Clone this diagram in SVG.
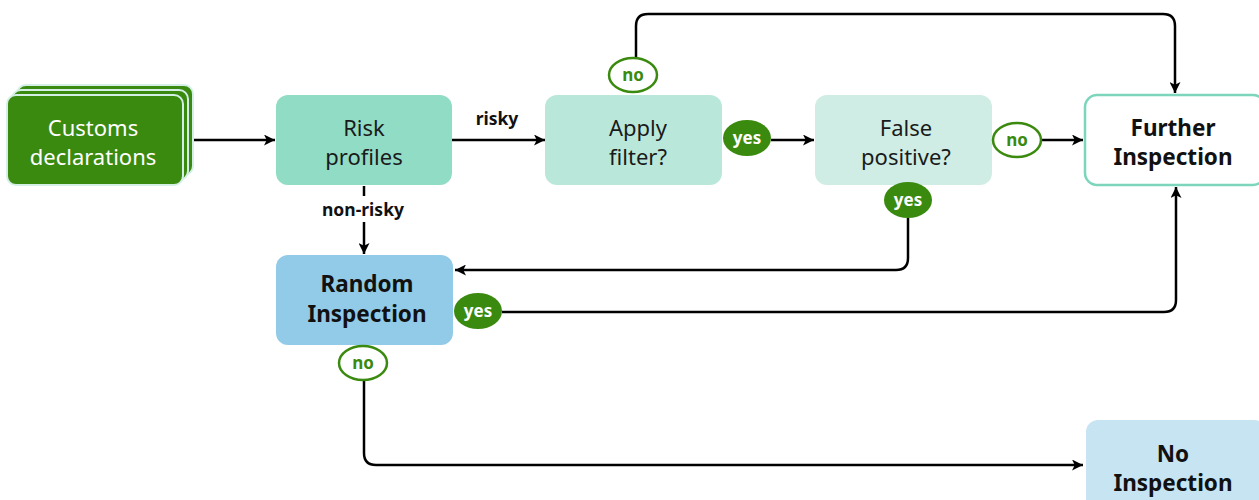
<svg xmlns="http://www.w3.org/2000/svg" width="1259" height="500" viewBox="0 0 1259 500">
<defs>
<marker id="ah2" viewBox="0 0 12 12" refX="12" refY="6" markerWidth="12" markerHeight="11" markerUnits="userSpaceOnUse" orient="auto">
<path d="M0,0 L12,6 L0,12 L3,6 z" fill="#000"/>
</marker>
<style>
text{font-family:"Noto Sans","Open Sans","Liberation Sans",sans-serif;text-anchor:middle}
.n{font-size:22px;fill:#1a1a1a}
.w{font-size:22px;fill:#fff}
.b{font-size:22.5px;font-weight:bold;fill:#111}
.lbl{font-size:17.5px;font-weight:bold;fill:#111}
.yes{fill:#3b8a10}
.yt{fill:#fff;font-size:17px;font-weight:bold}
.no{fill:#fff;stroke:#3b8a10;stroke-width:2.5}
.not{fill:#3b8a10;font-size:17px;font-weight:bold}
.c{fill:none;stroke:#000;stroke-width:2.5;marker-end:url(#ah2)}
.c0{fill:none;stroke:#000;stroke-width:2.5}
</style>
</defs>
<g id="connectors">
<path class="c" d="M193,140 H275"/>
<path class="c" d="M452,140 H545"/>
<path class="c" d="M771,140 H814"/>
<path class="c" d="M1041,140 H1083"/>
<path class="c0" d="M364,186 V196"/>
<path class="c" d="M364,222 V254"/>
<path class="c" d="M636,58 V26 Q636,14 648,14 H1163 Q1175,14 1175,26 V93"/>
<path class="c" d="M908,218 V258 Q908,270 896,270 H455"/>
<path class="c" d="M502,312 H1164 Q1176,312 1176,300 V187"/>
<path class="c" d="M364,381 V453 Q364,465 376,465 H1083"/>
<text class="lbl" x="497" y="125">risky</text>
<text class="lbl" x="363" y="216">non-risky</text>
</g>
<g id="customs">
<rect x="17" y="85" width="176" height="90" rx="9" fill="#3b8a10" stroke="#d4efe5" stroke-width="2"/>
<rect x="12" y="90" width="176" height="90" rx="9" fill="#3b8a10" stroke="#d4efe5" stroke-width="2"/>
<rect x="7" y="95" width="176" height="90" rx="9" fill="#3b8a10" stroke="#d4efe5" stroke-width="2"/>
<text class="w" x="93" y="136">Customs</text>
<text class="w" x="93" y="165">declarations</text>
</g>
<g id="risk">
<rect x="276" y="95" width="176" height="90" rx="12" fill="#91dcc5"/>
<text class="n" x="364" y="136">Risk</text>
<text class="n" x="364" y="165">profiles</text>
</g>
<g id="filter">
<rect x="545" y="95" width="177" height="90" rx="12" fill="#b9e8da"/>
<text class="n" x="638" y="136">Apply</text>
<text class="n" x="638" y="165">filter?</text>
</g>
<g id="falsepos">
<rect x="815" y="95" width="177" height="90" rx="12" fill="#cfede4"/>
<text class="n" x="906" y="136">False</text>
<text class="n" x="906" y="165">positive?</text>
</g>
<g id="further">
<rect x="1085" y="95" width="180" height="90" rx="12" fill="#fff" stroke="#7dd5bb" stroke-width="2.5"/>
<text class="b" x="1173" y="136">Further</text>
<text class="b" x="1173" y="165">Inspection</text>
</g>
<g id="random">
<rect x="276" y="255" width="177" height="90" rx="12" fill="#91cbe7"/>
<text class="b" x="367" y="292">Random</text>
<text class="b" x="367" y="322">Inspection</text>
</g>
<g id="noinsp">
<rect x="1086" y="420" width="180" height="95" rx="12" fill="#c6e4f1"/>
<text class="b" x="1173" y="462">No</text>
<text class="b" x="1173" y="491">Inspection</text>
</g>
<g id="b-no-top">
<ellipse class="no" cx="633" cy="75" rx="24" ry="17"/>
<text class="not" x="633" y="81">no</text>
</g>
<g id="b-yes-filter">
<ellipse class="yes" cx="747" cy="138" rx="24" ry="18"/>
<text class="yt" x="747" y="144">yes</text>
</g>
<g id="b-no-fp">
<ellipse class="no" cx="1017" cy="140" rx="24" ry="17"/>
<text class="not" x="1017" y="146">no</text>
</g>
<g id="b-yes-fp">
<ellipse class="yes" cx="908" cy="200" rx="24" ry="18"/>
<text class="yt" x="908" y="206">yes</text>
</g>
<g id="b-yes-random">
<ellipse class="yes" cx="478" cy="311" rx="24" ry="18"/>
<text class="yt" x="478" y="317">yes</text>
</g>
<g id="b-no-random">
<ellipse class="no" cx="363" cy="363" rx="24" ry="17"/>
<text class="not" x="363" y="369">no</text>
</g>
</svg>
